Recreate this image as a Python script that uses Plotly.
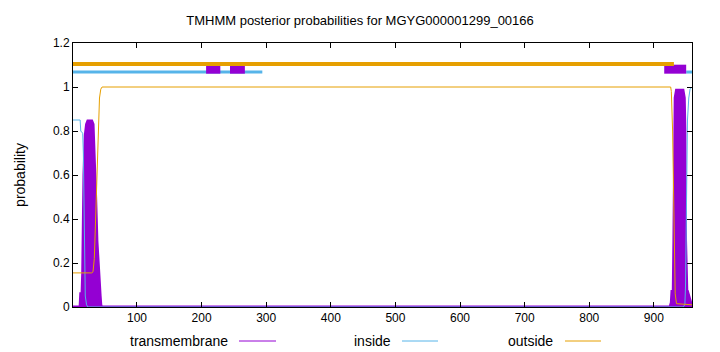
import plotly.graph_objects as go

# ---- data ----
seq_len = 959

tm_x = [1, 12, 13, 15, 16, 17, 18, 20, 22, 24, 30, 32, 34, 36, 38, 40, 42, 43, 44, 45,
        925, 927, 928, 930, 931, 932, 933, 935, 945, 947, 948, 949, 950, 951, 952, 954, 956, 959]
tm_y = [0, 0, 0.06, 0.06, 0.15, 0.4, 0.6, 0.78, 0.83, 0.845, 0.845, 0.83, 0.7, 0.5, 0.3, 0.18, 0.1, 0.05, 0.01, 0,
        0, 0.02, 0.07, 0.07, 0.3, 0.8, 0.95, 0.985, 0.985, 0.95, 0.8, 0.3, 0.1, 0.07, 0.07, 0.05, 0.02, 0]

inside_x = [1, 12, 13, 16, 17, 18, 19, 20, 22, 24, 945, 948, 949, 950, 951, 952, 954, 956, 959]
inside_y = [0.85, 0.85, 0.80, 0.79, 0.7, 0.45, 0.2, 0.05, 0.01, 0.0, 0.0, 0.01, 0.1, 0.4, 0.7, 0.85, 0.95, 0.99, 1.0]

outside_x = [1, 30, 32, 34, 36, 38, 40, 42, 44, 46, 926, 927, 929, 931, 933, 935, 959]
outside_y = [0.155, 0.155, 0.16, 0.22, 0.4, 0.6, 0.8, 0.95, 0.99, 1.0, 1.0, 0.98, 0.8, 0.4, 0.06, 0.015, 0.01]

# top topology tracks: (start, end)
top_outside = [(1, 931)]
top_inside = [(1, 294), (950, 959)]
top_tm = [(207, 229), (244, 267), (916, 950)]
y_outside_track = 1.105
y_inside_track = 1.068
y_tm_track = 1.081

x_ticks = [100, 200, 300, 400, 500, 600, 700, 800, 900]
y_ticks = [0, 0.2, 0.4, 0.6, 0.8, 1.0, 1.2]
y_tick_text = ["0", "0.2", "0.4", "0.6", "0.8", "1", "1.2"]

title = "TMHMM posterior probabilities for MGYG000001299_00166"
legend_names = ["transmembrane", "inside", "outside"]

C_TM = "#9400D3"
C_IN = "#56B4E9"
C_OUT = "#E69F00"
FONT = "Liberation Sans, Arial, sans-serif"

fig = go.Figure()

# posterior curves
fig.add_trace(go.Scatter(x=tm_x, y=tm_y, mode="lines", fill="tozeroy",
                         fillcolor=C_TM, line=dict(color=C_TM, width=3), showlegend=False))
fig.add_trace(go.Scatter(x=inside_x, y=inside_y, mode="lines",
                         line=dict(color=C_IN, width=1), showlegend=False))
fig.add_trace(go.Scatter(x=outside_x, y=outside_y, mode="lines",
                         line=dict(color=C_OUT, width=1), showlegend=False))

# top tracks
for s, e in top_inside:
    fig.add_trace(go.Scatter(x=[s, e], y=[y_inside_track] * 2, mode="lines",
                             line=dict(color=C_IN, width=3), showlegend=False))
for s, e in top_tm:
    fig.add_trace(go.Scatter(x=[s, e], y=[y_tm_track] * 2, mode="lines",
                             line=dict(color=C_TM, width=9), showlegend=False))
for s, e in top_outside:
    fig.add_trace(go.Scatter(x=[s, e], y=[y_outside_track] * 2, mode="lines",
                             line=dict(color=C_OUT, width=4), showlegend=False))

# manual gnuplot-style legend (text then sample line)
L, R, T, B = 73, 28, 43, 45
pw, ph = 720 - L - R, 352 - T - B
def px(x):
    return (x - L) / pw
def py(y):
    return (352 - B - y) / ph

legend_text_right = [230, 393, 555]
legend_line = [(239, 276), (402, 438), (565, 601)]
legend_colors = [C_TM, C_IN, C_OUT]
ly = 341
for name, xr, (a, b), c in zip(legend_names, legend_text_right, legend_line, legend_colors):
    fig.add_annotation(x=px(xr), y=py(ly), xref="paper", yref="paper", text=name,
                       showarrow=False, xanchor="right", yanchor="middle",
                       font=dict(family=FONT, size=14, color="black"))
    fig.add_shape(type="line", xref="paper", yref="paper", x0=px(a), x1=px(b),
                  y0=py(ly), y1=py(ly), line=dict(color=c, width=1))

axis_common = dict(showline=True, linecolor="black", linewidth=1, mirror="ticks",
                   ticks="inside", ticklen=5, tickcolor="black", showgrid=False,
                   zeroline=False, tickfont=dict(family=FONT, size=12, color="black"))

fig.update_layout(
    width=720, height=352,
    margin=dict(l=L, r=R, t=T, b=B),
    paper_bgcolor="white", plot_bgcolor="white",
    title=dict(text=title, x=0.5, xanchor="center", y=1 - 20 / 352, yanchor="middle",
               font=dict(family=FONT, size=13, color="black")),
    xaxis=dict(range=[1, seq_len], tickvals=x_ticks, **axis_common),
    yaxis=dict(range=[0, 1.2], tickvals=y_ticks, ticktext=y_tick_text,
               title=dict(text="probability", font=dict(family=FONT, size=14, color="black"),
                          standoff=24), **axis_common),
    showlegend=False,
)

fig.write_html("out.html")
